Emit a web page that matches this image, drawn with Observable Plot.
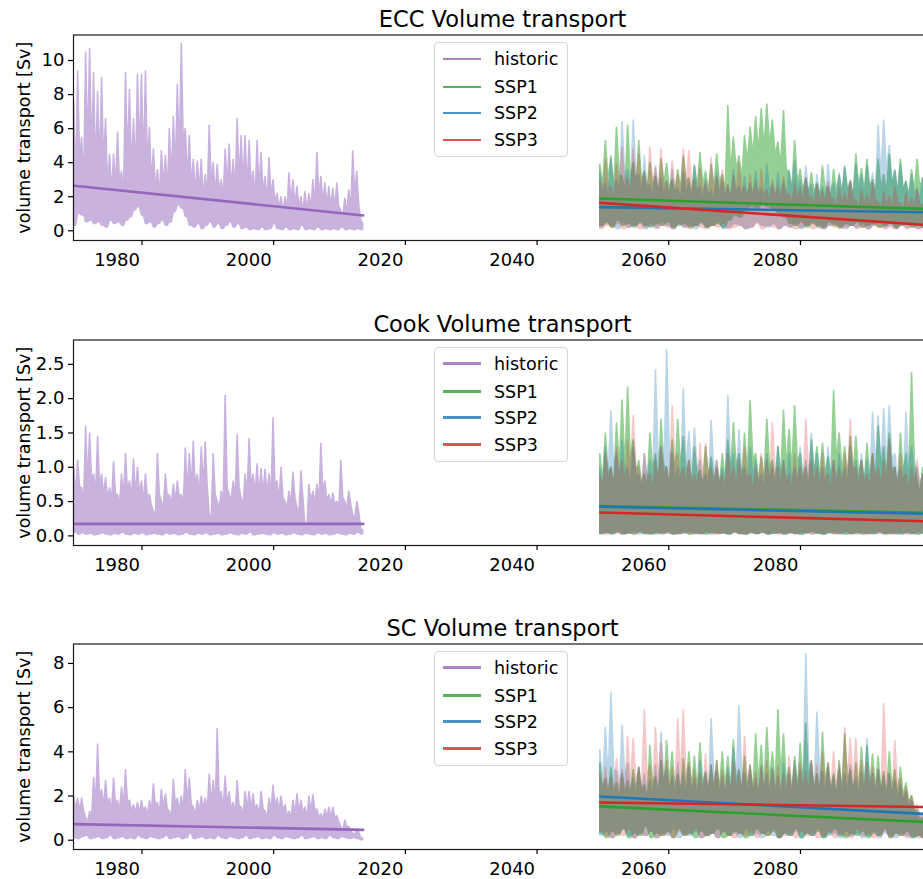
<!DOCTYPE html>
<html>
<head>
<meta charset="utf-8">
<script src="https://cdn.jsdelivr.net/npm/d3@7"></script>
<script src="https://cdn.jsdelivr.net/npm/@observablehq/plot@0.6"></script>
<style>
  html, body { margin: 0; padding: 0; background: #fff; overflow: hidden; width: 923px; height: 879px; }
  #fig { position: relative; width: 931px; height: 879px; font-family: "DejaVu Sans", sans-serif; }
  .panel { position: absolute; left: 0; }
  .legend { position: absolute; left: 434px; width: 132px; height: 113px; border: 1px solid #d4d4d4;
            border-radius: 4px; background: rgba(255,255,255,0.8); font-size: 17.5px; color: #000; }
  .legend .row { position: absolute; left: 0; height: 27px; display: flex; align-items: center; }
  .legend .sw { width: 38px; height: 2.6px; margin-left: 8px; margin-right: 13px; }
</style>
</head>
<body>
<div id="fig"></div>
<script>
// ---- time spans and axis ticks ----
const histSpan = [1969.7, 2013.6];
const futureSpan = [2049.6, 2099.9];
const xDomain = [1969.6, 2099.9];
const xTicks = [1980, 2000, 2020, 2040, 2060, 2080];
const seriesNames = ["historic", "SSP1", "SSP2", "SSP3"];

// Each record is summarised per time bin by its spike tops (Hi), the level
// between spikes (Mid) and the lowest value reached (Lo), in Sv.

// ---- ECC ----
const eccHistHi = [7.6,9.4,5.5,10.5,10.7,9.3,8.2,9.0,6.6,4.5,4.5,5.8,3.5,9.3,8.3,6.6,9.2,9.2,9.4,6.1,4.8,3.6,4.7,4.4,6.0,6.7,8.6,11.0,6.0,5.6,4.2,4.1,4.2,3.3,6.2,4.0,3.9,3.0,4.8,5.1,4.2,6.6,5.6,5.6,5.3,3.5,5.3,4.6,3.2,4.3,3.0,2.2,2.0,2.0,3.4,3.0,2.6,2.0,2.3,2.2,3.0,4.6,3.2,2.8,2.6,2.5,2.8,1.2,1.9,2.4,4.7,3.5,0.6];
const eccHistMid = [3.0,4.2,2.8,5.0,4.5,3.6,3.8,4.0,2.6,2.2,2.6,2.8,2.0,4.2,3.5,3.4,4.6,3.8,3.9,2.8,2.4,2.0,2.6,2.3,3.0,3.6,4.4,5.0,3.0,2.6,2.2,2.4,1.9,2.0,2.8,2.1,2.2,1.8,2.6,2.4,2.3,3.0,2.8,2.5,2.6,1.9,2.4,2.2,1.7,2.0,1.6,1.3,1.1,1.2,1.6,1.5,1.3,1.1,1.2,1.3,1.5,2.0,1.6,1.5,1.4,1.3,1.4,0.8,1.0,1.2,2.0,1.5,0.4];
const eccHistLo = [0.3,1.0,0.9,0.5,0.6,0.4,0.5,0.3,0.2,0.6,0.4,0.5,0.3,0.6,0.8,1.2,1.4,0.9,0.4,0.5,0.2,0.4,0.6,0.3,0.5,1.1,1.5,1.3,0.8,0.3,0.2,0.4,0.1,0.3,0.5,0.2,0.4,0.1,0.3,0.5,0.2,0.4,0.1,0.2,0.05,0.1,0.05,0.2,0.05,0.1,0.4,0.1,0.05,0.2,0.05,0.1,0.05,0.3,0.05,0.1,0.05,0.2,0.05,0.1,0.05,0.1,0.05,0.2,0.05,0.1,0.05,0.1,0.05];
const eccSsp1Hi = [3.9,5.3,4.4,6.1,3.2,6.2,4.0,5.3,3.5,4.0,3.2,4.2,3.95,3.0,3.6,4.4,3.1,3.8,4.6,3.5,3.9,4.5,3.3,7.36,5.5,4.4,5.6,6.1,6.7,7.16,7.45,6.5,5.2,7.06,3.4,5.3,3.6,3.1,3.4,2.8,3.8,2.6,3.6,3.25,3.8,2.9,4.5,3.65,4.2,3.0,4.2,3.3,4.5,3.5,4.2,2.9,3.6,4.2,3.1,3.4];
const eccSsp1Mid = [2.6,3.0,2.4,3.2,2.2,3.0,2.5,2.8,2.3,2.6,2.1,2.7,2.5,2.2,2.4,2.8,2.1,2.5,2.7,2.3,2.5,2.8,2.2,3.4,3.6,3.0,4.0,4.4,4.6,4.8,5.0,4.4,3.8,3.6,2.4,2.8,2.3,2.1,2.2,2.0,2.4,1.9,2.3,2.1,2.4,2.0,2.6,2.3,2.5,2.1,2.5,2.2,2.6,2.2,2.4,2.0,2.3,2.5,2.1,2.2];
const eccSsp1Lo = [0.3,0.5,0.2,0.6,0.3,0.4,0.2,0.5,0.3,0.2,0.4,0.3,0.5,0.2,0.3,0.4,0.2,0.3,0.5,0.2,0.3,0.4,0.2,0.6,0.9,0.8,1.2,1.4,1.3,1.5,1.4,1.2,1.0,0.8,0.4,0.3,0.5,0.2,0.4,0.3,0.2,0.5,0.3,0.2,0.4,0.3,0.5,0.2,0.3,0.4,0.2,0.3,0.5,0.2,0.3,0.4,0.2,0.3,0.2,0.3];
const eccSsp2Hi = [3.5,2.8,4.2,3.0,6.4,3.6,6.5,3.3,4.4,2.7,3.8,3.1,2.9,3.6,2.5,3.4,2.8,3.9,2.6,3.0,2.4,3.5,2.9,2.7,3.6,2.6,3.2,2.8,3.5,2.5,3.9,2.7,3.4,2.9,3.6,4.1,3.0,3.8,2.7,3.3,2.6,3.9,2.8,3.4,3.7,2.9,3.9,3.3,3.8,3.4,6.2,6.5,5.0,3.6,3.9,2.9,3.3,2.5,3.1,2.7];
const eccSsp2Mid = [2.2,1.9,2.5,2.0,3.0,2.2,3.1,2.0,2.4,1.8,2.2,2.0,1.9,2.2,1.7,2.1,1.8,2.3,1.7,1.9,1.6,2.1,1.9,1.8,2.2,1.7,2.0,1.8,2.1,1.7,2.3,1.8,2.1,1.9,2.2,2.4,1.9,2.3,1.8,2.0,1.7,2.3,1.8,2.1,2.2,1.9,2.3,2.0,2.3,2.1,3.2,3.4,2.8,2.2,2.3,1.9,2.0,1.7,1.9,1.8];
const eccSsp2Lo = [0.2,0.4,0.3,0.1,0.5,0.2,0.3,0.4,0.1,0.3,0.2,0.5,0.3,0.1,0.4,0.2,0.3,0.1,0.4,0.2,0.3,0.5,0.1,0.2,0.4,0.3,0.1,0.2,0.5,0.3,0.2,0.4,0.1,0.3,0.2,0.4,0.1,0.3,0.5,0.2,0.1,0.3,0.4,0.2,0.1,0.3,0.2,0.4,0.1,0.3,0.5,0.2,0.3,0.1,0.4,0.2,0.3,0.1,0.2,0.3];
const eccSsp3Hi = [3.0,4.2,2.6,3.9,4.9,3.1,4.8,4.5,3.4,4.9,3.7,4.8,2.9,4.1,3.3,4.8,4.7,3.0,3.7,2.8,4.3,3.2,3.6,2.7,3.2,4.0,2.6,3.3,2.9,3.6,2.4,3.0,2.6,3.2,2.2,2.8,2.5,3.1,2.0,2.7,2.3,2.9,1.9,2.5,2.2,3.0,1.8,2.4,2.1,2.8,1.7,2.3,2.0,2.6,1.6,2.2,1.9,2.4,1.5,2.1];
const eccSsp3Mid = [2.0,2.5,1.8,2.4,2.8,2.0,2.7,2.6,2.1,2.8,2.3,2.7,1.9,2.4,2.1,2.7,2.6,1.9,2.2,1.8,2.4,2.0,2.2,1.8,2.0,2.3,1.7,2.0,1.8,2.1,1.6,1.9,1.7,1.9,1.5,1.8,1.6,1.9,1.4,1.7,1.5,1.8,1.3,1.6,1.4,1.8,1.3,1.5,1.4,1.7,1.2,1.5,1.3,1.6,1.1,1.4,1.3,1.5,1.0,1.3];
const eccSsp3Lo = [0.1,0.3,0.2,0.4,0.1,0.2,0.3,0.1,0.2,0.4,0.1,0.3,0.2,0.1,0.4,0.2,0.1,0.3,0.2,0.1,0.3,0.2,0.4,0.1,0.2,0.3,0.1,0.2,0.4,0.1,0.3,0.2,0.1,0.3,0.2,0.1,0.2,0.3,0.1,0.2,0.1,0.3,0.2,0.1,0.2,0.3,0.1,0.2,0.1,0.3,0.2,0.1,0.2,0.1,0.3,0.1,0.2,0.1,0.2,0.1];
// linear trends: value at start and end of each span
const eccTrendHist = [2.65, 0.9];
const eccTrendSsp1 = [1.9, 1.27];
const eccTrendSsp2 = [1.39, 1.08];
const eccTrendSsp3 = [1.64, 0.32];

// ---- Cook ----
const cookHistHi = [1.0,1.1,0.7,1.6,1.5,0.9,1.45,0.9,0.85,0.7,1.08,0.6,0.9,1.2,0.8,1.12,1.0,0.8,0.9,0.6,0.35,1.2,0.5,0.9,0.6,0.75,0.8,0.6,1.28,1.2,1.38,0.9,1.3,1.37,0.3,1.2,0.5,0.65,2.05,0.6,0.8,1.48,0.55,0.9,1.42,0.9,1.05,0.98,0.97,0.9,1.72,0.8,1.0,0.5,0.65,0.93,0.4,0.95,0.15,0.75,0.65,0.75,1.35,0.8,0.6,0.62,0.5,1.1,0.5,0.65,0.3,0.5,0.1];
const cookHistMid = [0.6,0.7,0.5,0.8,0.8,0.6,0.7,0.6,0.55,0.5,0.6,0.45,0.55,0.65,0.55,0.6,0.6,0.5,0.55,0.45,0.3,0.6,0.4,0.55,0.45,0.5,0.55,0.45,0.65,0.7,0.7,0.55,0.7,0.7,0.25,0.6,0.4,0.5,0.7,0.5,0.55,0.7,0.45,0.6,0.7,0.6,0.6,0.6,0.6,0.55,0.7,0.5,0.55,0.4,0.45,0.55,0.35,0.55,0.12,0.5,0.45,0.5,0.6,0.5,0.45,0.45,0.4,0.55,0.4,0.45,0.25,0.35,0.08];
const cookHistLo = [0.05,0.02,0.04,0.02,0.03,0.01,0.02,0.04,0.02,0.01,0.03,0.02,0.05,0.02,0.01,0.03,0.02,0.04,0.01,0.02,0.03,0.02,0.01,0.04,0.02,0.03,0.01,0.02,0.05,0.02,0.01,0.03,0.02,0.04,0.01,0.02,0.03,0.01,0.02,0.04,0.02,0.01,0.03,0.02,0.05,0.01,0.02,0.03,0.02,0.01,0.04,0.02,0.03,0.01,0.02,0.04,0.02,0.01,0.03,0.02,0.01,0.04,0.02,0.03,0.01,0.02,0.04,0.02,0.01,0.03,0.02,0.05,0.02];
const cookSsp1Hi = [1.2,1.5,1.0,1.65,1.98,2.17,1.4,1.1,0.9,1.5,1.2,1.7,1.0,1.4,1.7,1.45,1.1,1.3,0.95,1.3,1.15,1.0,1.2,1.4,1.65,1.2,1.5,1.97,1.2,1.15,1.7,1.1,1.3,1.83,1.55,1.9,1.2,1.0,1.4,1.3,1.35,1.15,2.12,1.5,1.3,1.45,1.45,1.1,1.35,1.2,1.6,1.3,1.5,1.0,1.5,1.2,2.38,0.8,1.0,1.1];
const cookSsp1Mid = [0.8,0.9,0.7,1.0,1.0,1.1,0.9,0.75,0.7,0.95,0.8,1.0,0.7,0.9,1.0,0.9,0.75,0.85,0.7,0.85,0.8,0.7,0.8,0.9,1.0,0.8,0.9,1.1,0.8,0.8,1.0,0.75,0.85,1.0,0.95,1.05,0.8,0.7,0.9,0.85,0.9,0.8,1.1,0.95,0.85,0.9,0.9,0.75,0.85,0.8,1.0,0.85,0.95,0.7,0.9,0.8,1.1,0.6,0.7,0.75];
const cookSsp1Lo = [0.03,0.05,0.02,0.06,0.03,0.04,0.02,0.05,0.03,0.02,0.04,0.03,0.06,0.02,0.03,0.05,0.02,0.04,0.03,0.02,0.05,0.03,0.04,0.02,0.06,0.03,0.02,0.04,0.03,0.05,0.02,0.03,0.04,0.02,0.05,0.03,0.02,0.04,0.06,0.03,0.02,0.05,0.03,0.04,0.02,0.03,0.05,0.02,0.04,0.03,0.06,0.02,0.03,0.04,0.02,0.05,0.03,0.02,0.04,0.03];
const cookSsp2Hi = [1.0,1.3,1.82,1.2,1.4,1.0,1.3,0.9,1.2,1.1,2.42,1.3,2.72,1.2,1.0,2.15,1.52,1.57,1.1,0.9,1.68,1.1,1.0,2.05,1.2,1.55,1.0,1.3,1.1,0.9,1.2,1.0,1.3,1.1,1.2,1.0,1.3,1.1,1.5,1.2,1.0,1.3,1.1,1.2,1.0,1.3,1.1,1.2,1.1,1.8,1.75,1.85,1.9,1.2,1.0,1.8,1.3,1.0,0.9,1.1];
const cookSsp2Mid = [0.7,0.85,1.0,0.8,0.9,0.7,0.85,0.65,0.8,0.75,1.1,0.85,1.2,0.8,0.7,1.0,0.9,0.95,0.75,0.65,0.95,0.75,0.7,1.0,0.8,0.9,0.7,0.85,0.75,0.65,0.8,0.7,0.85,0.75,0.8,0.7,0.85,0.75,0.9,0.8,0.7,0.85,0.75,0.8,0.7,0.85,0.75,0.8,0.75,1.0,1.0,1.05,1.1,0.8,0.7,1.0,0.85,0.7,0.65,0.75];
const cookSsp2Lo = [0.02,0.04,0.03,0.05,0.02,0.03,0.06,0.02,0.04,0.03,0.02,0.05,0.03,0.02,0.04,0.03,0.06,0.02,0.03,0.04,0.02,0.05,0.03,0.02,0.04,0.03,0.02,0.06,0.03,0.04,0.02,0.03,0.05,0.02,0.04,0.03,0.02,0.05,0.03,0.04,0.02,0.03,0.06,0.02,0.04,0.03,0.02,0.05,0.03,0.02,0.04,0.03,0.05,0.02,0.03,0.04,0.02,0.06,0.03,0.02];
const cookSsp3Hi = [0.9,1.2,1.0,1.3,1.1,1.4,1.75,1.0,1.2,0.9,1.1,1.3,1.0,1.9,1.2,1.0,1.1,0.9,1.35,1.35,1.0,1.1,0.9,1.2,1.0,1.1,1.3,0.9,1.0,1.2,1.1,1.65,1.0,1.1,0.9,1.2,1.0,1.7,1.1,1.0,1.2,0.9,1.1,1.0,1.2,1.7,1.0,1.1,0.9,1.2,1.0,1.1,1.4,1.0,1.2,0.9,1.0,1.1,0.9,1.0];
const cookSsp3Mid = [0.65,0.8,0.7,0.85,0.75,0.9,1.0,0.7,0.8,0.65,0.75,0.85,0.7,1.05,0.8,0.7,0.75,0.65,0.85,0.85,0.7,0.75,0.65,0.8,0.7,0.75,0.85,0.65,0.7,0.8,0.75,0.95,0.7,0.75,0.65,0.8,0.7,0.95,0.75,0.7,0.8,0.65,0.75,0.7,0.8,0.95,0.7,0.75,0.65,0.8,0.7,0.75,0.85,0.7,0.8,0.65,0.7,0.75,0.65,0.7];
const cookSsp3Lo = [0.04,0.02,0.05,0.03,0.02,0.04,0.03,0.06,0.02,0.03,0.05,0.02,0.04,0.03,0.02,0.05,0.03,0.04,0.02,0.06,0.03,0.02,0.04,0.03,0.05,0.02,0.03,0.04,0.02,0.05,0.03,0.06,0.02,0.04,0.03,0.02,0.05,0.03,0.02,0.04,0.03,0.05,0.02,0.03,0.06,0.02,0.04,0.03,0.02,0.05,0.03,0.04,0.02,0.03,0.05,0.02,0.04,0.03,0.06,0.02];
const cookTrendHist = [0.175, 0.175];
const cookTrendSsp1 = [0.435, 0.335];
const cookTrendSsp2 = [0.425, 0.32];
const cookTrendSsp3 = [0.34, 0.21];

// ---- SC ----
const scHistHi = [2.0,1.9,1.9,1.0,1.3,2.85,4.35,2.3,2.7,1.9,2.8,1.8,2.4,3.2,1.8,1.6,1.7,1.8,1.5,1.8,2.55,1.7,2.3,2.1,1.3,2.75,1.9,2.0,3.2,2.8,1.5,1.8,2.0,1.9,3.0,2.7,5.05,2.2,2.9,2.2,1.7,2.7,1.5,2.2,2.2,2.1,1.6,2.2,1.3,1.9,2.5,1.9,2.0,1.6,1.3,1.8,2.1,1.8,1.5,2.0,2.05,1.4,1.2,1.4,1.5,1.5,1.1,0.6,0.9,0.6,0.3,0.5,0.1];
const scHistMid = [1.4,1.3,1.3,0.8,1.0,1.6,1.9,1.5,1.6,1.3,1.6,1.3,1.5,1.7,1.3,1.2,1.2,1.3,1.1,1.3,1.5,1.2,1.4,1.4,1.0,1.6,1.3,1.4,1.7,1.6,1.1,1.3,1.4,1.3,1.6,1.5,1.9,1.4,1.6,1.4,1.2,1.5,1.1,1.4,1.4,1.4,1.1,1.4,1.0,1.3,1.5,1.3,1.3,1.1,1.0,1.2,1.3,1.2,1.0,1.3,1.3,1.0,0.9,1.0,1.0,1.0,0.8,0.45,0.6,0.4,0.25,0.35,0.08];
const scHistLo = [0.1,0.05,0.15,0.2,0.05,0.1,0.15,0.05,0.1,0.2,0.05,0.1,0.15,0.05,0.1,0.05,0.2,0.1,0.05,0.15,0.1,0.05,0.1,0.2,0.05,0.1,0.15,0.05,0.1,0.3,0.05,0.1,0.15,0.05,0.1,0.05,0.2,0.1,0.05,0.15,0.1,0.05,0.1,0.2,0.05,0.1,0.15,0.05,0.1,0.05,0.2,0.1,0.05,0.15,0.1,0.05,0.1,0.2,0.05,0.1,0.15,0.05,0.1,0.05,0.2,0.1,0.05,0.15,0.1,0.05,0.1,0.05,0.0];
const scSsp1Hi = [3.5,2.8,3.3,2.6,3.0,2.7,3.2,3.3,2.5,4.3,2.9,3.6,4.5,4.0,3.0,3.7,4.0,3.8,4.4,3.1,3.4,3.6,4.0,3.8,4.55,3.2,3.8,3.4,4.8,4.3,5.1,4.0,5.9,4.8,3.3,3.8,4.4,5.3,3.6,3.0,4.9,3.5,3.0,3.6,4.8,3.2,3.5,4.2,4.3,3.9,3.8,3.1,4.0,3.2,3.3,2.6,2.0,1.2,1.0,0.9];
const scSsp1Mid = [2.3,2.0,2.2,1.9,2.1,2.0,2.2,2.2,1.8,2.5,2.0,2.3,2.6,2.4,2.1,2.3,2.4,2.3,2.5,2.1,2.2,2.3,2.4,2.3,2.6,2.1,2.3,2.2,2.6,2.4,2.7,2.4,2.9,2.6,2.1,2.3,2.5,2.7,2.2,2.0,2.6,2.2,2.0,2.2,2.6,2.1,2.2,2.4,2.4,2.3,2.2,2.0,2.3,2.0,2.0,1.7,1.4,0.9,0.7,0.6];
const scSsp1Lo = [0.3,0.1,0.4,0.2,0.5,0.1,0.3,0.2,0.6,0.1,0.3,0.2,0.4,0.1,0.5,0.2,0.3,0.1,0.4,0.2,0.3,0.5,0.1,0.2,0.4,0.3,0.1,0.2,0.5,0.3,0.2,0.4,0.1,0.3,0.2,0.5,0.1,0.3,0.2,0.4,0.1,0.3,0.5,0.2,0.1,0.3,0.2,0.4,0.1,0.3,0.2,0.5,0.1,0.3,0.2,0.4,0.1,0.2,0.1,0.2];
const scSsp2Hi = [4.1,5.1,6.7,3.1,5.2,3.5,2.8,3.3,3.0,2.7,3.4,4.9,3.2,2.9,3.5,3.0,3.3,2.8,3.6,3.0,5.5,3.1,2.9,3.3,4.2,6.1,3.0,3.2,2.8,3.4,3.0,3.3,2.9,3.5,3.0,3.6,3.2,8.45,3.4,5.8,3.1,3.3,2.9,3.2,3.0,3.4,2.8,3.1,4.6,3.0,3.2,2.9,3.0,2.7,2.5,2.2,1.8,1.4,1.1,0.9];
const scSsp2Mid = [2.5,2.8,3.2,2.1,2.8,2.2,1.9,2.1,2.0,1.9,2.1,2.7,2.1,1.9,2.2,2.0,2.1,1.9,2.2,2.0,2.9,2.0,1.9,2.1,2.5,3.0,2.0,2.1,1.9,2.2,2.0,2.1,1.9,2.2,2.0,2.3,2.1,3.5,2.2,3.0,2.0,2.1,1.9,2.1,2.0,2.2,1.9,2.0,2.6,2.0,2.1,1.9,2.0,1.8,1.7,1.5,1.2,1.0,0.8,0.6];
const scSsp2Lo = [0.2,0.4,0.1,0.3,0.5,0.2,0.1,0.3,0.2,0.4,0.1,0.3,0.2,0.5,0.1,0.3,0.2,0.4,0.1,0.2,0.3,0.1,0.4,0.2,0.3,0.1,0.5,0.2,0.3,0.1,0.4,0.2,0.1,0.3,0.2,0.4,0.1,0.3,0.2,0.5,0.1,0.2,0.3,0.1,0.4,0.2,0.3,0.1,0.2,0.4,0.1,0.3,0.2,0.1,0.3,0.2,0.1,0.2,0.1,0.1];
const scSsp3Hi = [3.0,3.3,2.9,3.7,3.2,4.7,4.6,3.3,5.9,3.4,5.1,4.4,3.6,3.3,5.5,5.9,3.5,3.2,3.0,3.9,3.4,3.6,3.2,3.0,3.5,3.1,4.7,3.4,3.1,3.3,3.6,3.2,3.4,3.0,3.8,3.3,3.5,3.1,3.6,3.4,4.0,3.5,4.0,3.4,5.1,4.6,4.6,3.6,3.5,3.3,3.2,6.2,3.0,4.5,2.8,2.4,2.0,1.6,1.2,1.0];
const scSsp3Mid = [2.0,2.2,1.9,2.3,2.1,2.6,2.6,2.1,2.9,2.2,2.7,2.5,2.2,2.1,2.8,2.9,2.2,2.1,2.0,2.3,2.1,2.2,2.1,2.0,2.2,2.0,2.6,2.1,2.0,2.1,2.2,2.0,2.1,1.9,2.3,2.1,2.2,2.0,2.2,2.1,2.4,2.2,2.4,2.1,2.7,2.5,2.5,2.2,2.2,2.1,2.0,3.0,1.9,2.4,1.8,1.6,1.4,1.1,0.8,0.7];
const scSsp3Lo = [0.4,0.2,0.1,0.3,0.2,0.5,0.1,0.3,0.2,0.4,0.1,0.2,0.3,0.1,0.4,0.2,0.3,0.5,0.1,0.2,0.3,0.1,0.4,0.2,0.1,0.3,0.2,0.4,0.1,0.3,0.2,0.5,0.1,0.2,0.3,0.1,0.4,0.2,0.3,0.1,0.2,0.4,0.1,0.3,0.2,0.1,0.5,0.2,0.3,0.1,0.2,0.4,0.1,0.3,0.2,0.1,0.2,0.1,0.1,0.1];
const scTrendHist = [0.73, 0.47];
const scTrendSsp1 = [1.53, 0.81];
const scTrendSsp2 = [1.98, 1.17];
const scTrendSsp3 = [1.71, 1.5];

// ---- styling ----
const COLORS = { historic: "#9467bd", SSP1: "#2ca02c", SSP2: "#1f77b4", SSP3: "#d62728" };
const SERIES_OPACITY = { historic: 0.5, SSP1: 0.5, SSP2: 0.3, SSP3: 0.25 };

// spread the per-bin summaries evenly over the time span: spike top, then the level between spikes
function band(hi, mid, lo, [t0, t1]) {
  const n = hi.length * 2, out = [];
  hi.forEach((h, i) => {
    out.push({ t: t0 + (t1 - t0) * (2 * i) / (n - 1), top: h, bot: lo[i] });
    out.push({ t: t0 + (t1 - t0) * (2 * i + 1) / (n - 1), top: mid[i], bot: lo[i] });
  });
  return out;
}
const trend = ([a, b], [t0, t1]) => [{ t: t0, v: a }, { t: t1, v: b }];

const panels = [
  { title: "ECC Volume transport", top: 34.5, yDomain: [-0.57, 11.5], yTicks: [0, 2, 4, 6, 8, 10], fmt: d => String(d),
    series: { historic: [eccHistHi, eccHistMid, eccHistLo], SSP1: [eccSsp1Hi, eccSsp1Mid, eccSsp1Lo],
              SSP2: [eccSsp2Hi, eccSsp2Mid, eccSsp2Lo], SSP3: [eccSsp3Hi, eccSsp3Mid, eccSsp3Lo] },
    trends: { historic: eccTrendHist, SSP1: eccTrendSsp1, SSP2: eccTrendSsp2, SSP3: eccTrendSsp3 } },
  { title: "Cook Volume transport", top: 339, yDomain: [-0.14, 2.855], yTicks: [0, 0.5, 1, 1.5, 2, 2.5], fmt: d3.format(".1f"),
    series: { historic: [cookHistHi, cookHistMid, cookHistLo], SSP1: [cookSsp1Hi, cookSsp1Mid, cookSsp1Lo],
              SSP2: [cookSsp2Hi, cookSsp2Mid, cookSsp2Lo], SSP3: [cookSsp3Hi, cookSsp3Mid, cookSsp3Lo] },
    trends: { historic: cookTrendHist, SSP1: cookTrendSsp1, SSP2: cookTrendSsp2, SSP3: cookTrendSsp3 } },
  { title: "SC Volume transport", top: 643, yDomain: [-0.42, 8.88], yTicks: [0, 2, 4, 6, 8], fmt: d => String(d),
    series: { historic: [scHistHi, scHistMid, scHistLo], SSP1: [scSsp1Hi, scSsp1Mid, scSsp1Lo],
              SSP2: [scSsp2Hi, scSsp2Mid, scSsp2Lo], SSP3: [scSsp3Hi, scSsp3Mid, scSsp3Lo] },
    trends: { historic: scTrendHist, SSP1: scTrendSsp1, SSP2: scTrendSsp2, SSP3: scTrendSsp3 } }
];

const MT = 34.5, MB = 35, FRAME_H = 205.5;
const fig = document.getElementById("fig");

for (const p of panels) {
  const span = name => (name === "historic" ? histSpan : futureSpan);
  const marks = [];
  for (const name of seriesNames) {
    const [hi, mid, lo] = p.series[name];
    marks.push(Plot.areaY(band(hi, mid, lo, span(name)), {
      x: "t", y1: "bot", y2: "top", fill: COLORS[name], stroke: COLORS[name],
      strokeWidth: 1.5, strokeLinejoin: "miter", opacity: SERIES_OPACITY[name]
    }));
  }
  for (const name of seriesNames) {
    marks.push(Plot.lineY(trend(p.trends[name], span(name)), {
      x: "t", y: "v", stroke: COLORS[name], strokeWidth: 2.6
    }));
  }
  marks.push(
    Plot.frame({ stroke: "#1a1a1a", strokeWidth: 1.2 }),
    Plot.axisY(p.yTicks, { tickSize: 5, tickPadding: 4, fontSize: 18, tickFormat: p.fmt, label: null, strokeWidth: 1.2 }),
    Plot.axisX(xTicks, { tickSize: 5, fill: "none", label: null, strokeWidth: 1.2 }),
    Plot.text(xTicks, { x: d => d, frameAnchor: "bottom", text: d => String(d), textAnchor: "end",
                        lineAnchor: "top", dx: -2, dy: 12.5, fontSize: 18, fill: "black" }),
    Plot.text([p.title], { frameAnchor: "top", lineAnchor: "middle", dy: -15.7, fontSize: 22.5, fill: "black" }),
    Plot.text(["volume transport [Sv]"], { frameAnchor: "left", rotate: -90, textAnchor: "middle", lineAnchor: "top",
                                           dx: -56, fontSize: 17.5, fill: "black" })
  );

  const svg = Plot.plot({
    width: 931, height: MT + FRAME_H + MB,
    marginLeft: 73, marginRight: 0, marginTop: MT, marginBottom: MB,
    x: { domain: xDomain, label: null },
    y: { domain: p.yDomain, label: null },
    style: { fontFamily: "DejaVu Sans", fontSize: "18px", background: "transparent", color: "black", overflow: "visible" },
    marks
  });
  const wrap = document.createElement("div");
  wrap.className = "panel";
  wrap.style.top = (p.top - MT) + "px";
  wrap.appendChild(svg);
  fig.appendChild(wrap);

  // legend box
  const lg = document.createElement("div");
  lg.className = "legend";
  lg.style.top = (p.top + 7.5) + "px";
  [17, 45, 71, 98].forEach((cy, i) => {
    const name = seriesNames[i];
    const row = document.createElement("div");
    row.className = "row";
    row.style.top = (cy - 14.5) + "px";
    const sw = document.createElement("span");
    sw.className = "sw";
    sw.style.background = COLORS[name];
    sw.style.opacity = 0.8;
    const tx = document.createElement("span");
    tx.textContent = name;
    row.appendChild(sw);
    row.appendChild(tx);
    lg.appendChild(row);
  });
  fig.appendChild(lg);
}
</script>
</body>
</html>
